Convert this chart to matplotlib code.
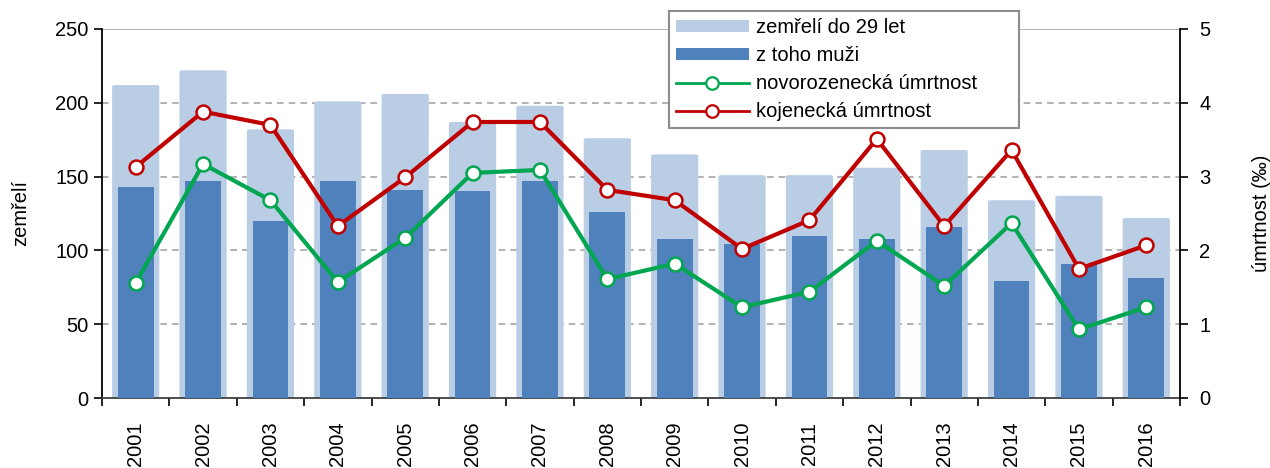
import matplotlib
matplotlib.use("Agg")
import matplotlib.pyplot as plt
from matplotlib.patches import FancyBboxPatch, Patch
from matplotlib.lines import Line2D
import numpy as np

plt.rcParams['font.family'] = ['Liberation Sans', 'DejaVu Sans']

roky = ['2001', '2002', '2003', '2004', '2005', '2006', '2007', '2008',
        '2009', '2010', '2011', '2012', '2013', '2014', '2015', '2016']
zemreli = [212, 222, 182, 201, 206, 187, 198, 176, 165, 151, 151, 156, 168, 134, 137, 122]
muzi = [143, 147, 120, 147, 141, 140, 147, 126, 108, 104, 110, 108, 116, 79, 91, 81]
novorozenecka = [1.56, 3.17, 2.68, 1.57, 2.17, 3.05, 3.09, 1.61, 1.82, 1.23, 1.44, 2.13, 1.52, 2.37, 0.93, 1.23]
kojenecka = [3.13, 3.88, 3.70, 2.33, 2.99, 3.74, 3.74, 2.82, 2.68, 2.02, 2.41, 3.51, 2.33, 3.36, 1.75, 2.07]
popisky = ['zemřelí do 29 let', 'z toho muži', 'novorozenecká úmrtnost', 'kojenecká úmrtnost']

SVETLA = '#b9cde5'
TMAVA = '#4f81bd'
ZELENA = '#00a650'
CERVENA = '#c00000'
FS = 14.5

fig = plt.figure(figsize=(12.7, 4.68), dpi=100)
ax = fig.add_axes([102 / 1270, 1 - 398 / 468, (1180 - 102) / 1270, (398 - 29) / 468])
x = np.arange(len(roky))

bary = ax.bar(x, zemreli, width=0.70, color=SVETLA, zorder=2)
# zaoblene rohy svetlych sloupcu
for b in bary:
    b.set_visible(False)
    p = FancyBboxPatch((b.get_x(), 0), b.get_width(), b.get_height(),
                       boxstyle='round,pad=0,rounding_size=0.06',
                       mutation_aspect=12, color=SVETLA, zorder=2, linewidth=0)
    ax.add_patch(p)
ax.bar(x, muzi, width=0.53, color=TMAVA, zorder=3)

ax.set_xlim(-0.5, len(roky) - 0.5)
ax.set_ylim(0, 250)
ax.set_yticks(range(0, 251, 50))
ax.set_xticks(x)
ax.set_xticklabels(roky, rotation=90, fontsize=FS)
ax.set_xticks(np.arange(-0.5, len(roky), 1), minor=True)
ax.tick_params(axis='x', which='major', length=0, pad=17)
ax.tick_params(axis='x', which='minor', length=6, width=1.2, direction='out')
ax.tick_params(axis='y', labelsize=FS, length=6, width=1.2)
ax.set_ylabel('zemřelí', fontsize=FS, labelpad=18)
for v in range(50, 201, 50):
    ax.axhline(v, color='#a6a6a6', linestyle=(0, (4, 3)), linewidth=1.2, zorder=1)
ax.axhline(250, color='#a6a6a6', linewidth=1.2, zorder=1)
for s in ['top', 'right']:
    ax.spines[s].set_visible(False)
ax.spines['left'].set_linewidth(1.3)
ax.spines['bottom'].set_linewidth(1.3)
ax.spines['bottom'].set_color('#404040')

ax2 = ax.twinx()
for hodnoty, barva in [(novorozenecka, ZELENA), (kojenecka, CERVENA)]:
    ax2.plot(x, hodnoty, color=barva, linewidth=3, marker='o', markersize=10,
             markerfacecolor='white', markeredgecolor=barva, markeredgewidth=1.8, zorder=4)
ax2.set_ylim(0, 5)
ax2.set_yticks(range(0, 6))
ax2.tick_params(axis='y', labelsize=FS, length=6, width=1.2, pad=8)
ax2.set_ylabel('úmrtnost (‰)', fontsize=FS, labelpad=30)
for s in ['top', 'left', 'bottom']:
    ax2.spines[s].set_visible(False)
ax2.spines['right'].set_linewidth(1.3)

handles = [Patch(facecolor=SVETLA, edgecolor='none'),
           Patch(facecolor=TMAVA, edgecolor='none')]
for barva in [ZELENA, CERVENA]:
    handles.append(Line2D([], [], color=barva, linewidth=2, marker='o', markersize=9,
                          markerfacecolor='white', markeredgecolor=barva, markeredgewidth=1.6))
leg = ax2.legend(handles, popisky, loc='upper left', mode='expand',
                 bbox_to_anchor=(669 / 1270, 1 - 125 / 468, 350 / 1270, 114 / 468),
                 bbox_transform=fig.transFigure,
                 fontsize=FS, frameon=True, fancybox=False, edgecolor='#8c8c8c',
                 framealpha=1, borderpad=0.35, labelspacing=0.45, handlelength=3.6,
                 handleheight=0.55, handletextpad=0.35, borderaxespad=0)
leg.get_frame().set_linewidth(1.5)
leg.set_zorder(10)

fig.savefig('out.png', dpi=100)
